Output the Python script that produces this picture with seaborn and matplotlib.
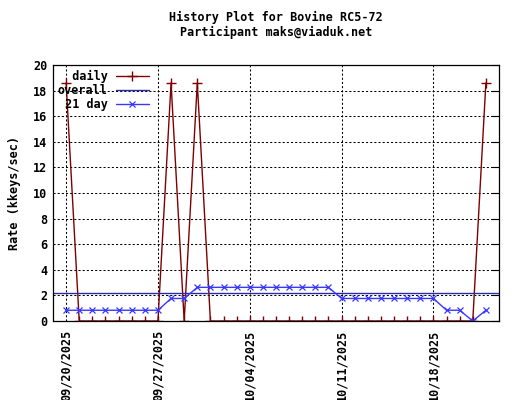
import matplotlib
matplotlib.use("Agg")
import matplotlib.pyplot as plt
import matplotlib.dates as mdates
import pandas as pd
import seaborn as sns

# values
dates = pd.date_range("2025-09-20", "2025-10-22", freq="D")
daily = [18.6, 0, 0, 0, 0, 0, 0, 0, 18.6, 0, 18.6] + [0] * 21 + [18.6]
avg21 = [0.84] * 8 + [1.76] * 2 + [2.63] * 11 + [1.76] * 8 + [0.84] * 2 + [0, 0.84]
overall = 2.22

df = pd.DataFrame({"date": dates, "daily": daily, "avg21": avg21})

red, navy, blue = "#7f0000", "#2c2ca8", "#3838ff"

sns.set_theme(style="white")
plt.rcParams["font.family"] = ["DejaVu Sans Mono"]
plt.rcParams["font.weight"] = "bold"
plt.rcParams["font.size"] = 8.5
for k in ["text.color", "axes.labelcolor", "xtick.color", "ytick.color"]:
    plt.rcParams[k] = "black"

fig = plt.figure(figsize=(5.2, 4.0), dpi=100)
ax = fig.add_axes([53 / 520, 79 / 400, 446 / 520, 256 / 400])

sns.lineplot(data=df, x="date", y="daily", ax=ax, color=red, lw=1.0,
             marker="+", markersize=6.5, markeredgewidth=1.0,
             markeredgecolor=red, label="  daily")
ax.axhline(overall, color=navy, lw=1.0, label="overall")
sns.lineplot(data=df, x="date", y="avg21", ax=ax, color=blue, lw=1.0,
             marker="x", markersize=5, markeredgewidth=0.9,
             markeredgecolor=blue, label=" 21 day")

ax.set_xlim(pd.Timestamp("2025-09-19"), pd.Timestamp("2025-10-23"))
ax.set_ylim(0, 20)
ax.set_yticks(range(0, 21, 2))
ax.xaxis.set_major_locator(mdates.WeekdayLocator(byweekday=mdates.SA))
ax.xaxis.set_minor_locator(mdates.DayLocator())
ax.xaxis.set_major_formatter(mdates.DateFormatter("%m/%d/%Y"))
plt.setp(ax.get_xticklabels(), rotation=90, ha="center", va="top")

ax.tick_params(axis="both", which="both", direction="in", colors="black",
               labelsize=8.5, width=0.8)
ax.tick_params(axis="x", which="major", length=5, pad=6.5)
ax.tick_params(axis="x", which="minor", length=3)
ax.tick_params(axis="y", which="major", length=5, pad=4, right=True)

ax.grid(True, which="major", color="black", lw=0.75, linestyle=(0, (2, 2)))
ax.set_axisbelow(True)
for s in ax.spines.values():
    s.set_color("black")
    s.set_linewidth(0.9)

ax.set_xlabel("")
ax.set_ylabel("Rate (kkeys/sec)", fontsize=8.5, fontweight="bold")
ax.yaxis.set_label_coords(-0.072, 0.5)

fig.text(276 / 520, 1 - 11 / 400,
         "History Plot for Bovine RC5-72\nParticipant maks@viaduk.net",
         ha="center", va="top", fontsize=8.5, fontweight="bold", linespacing=1.15)

ax.legend(loc="upper left", frameon=False, markerfirst=False,
          handlelength=2.8, handletextpad=0.7, labelspacing=0.1,
          borderaxespad=0.2, borderpad=0.2, fontsize=8.5)

fig.savefig("out.png", dpi=100)
